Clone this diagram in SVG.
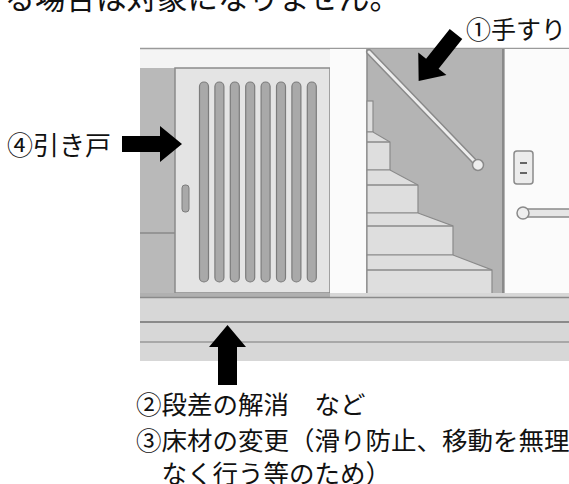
<svg xmlns="http://www.w3.org/2000/svg" width="569" height="484" viewBox="0 0 569 484">
<defs>
<style>
.t{font-family:"Noto Sans CJK JP","Noto Sans",sans-serif;fill:#111;}
.ln{stroke:#8a8a8a;stroke-width:1.5;fill:none;}
.slat{fill:#a9a9a9;stroke:#7c7c7c;stroke-width:1.2;}
.step{fill:#dedede;stroke:#8a8a8a;stroke-width:1.2;}
.arr{fill:#000;}
</style>
<path id="arrR" d="M0,-8 H38 V-18 L60,0 L38,18 V8 H0 Z"/>
</defs>
<rect width="569" height="484" fill="#fff"/>
<g id="top-text"><text class="t" x="-26" y="9" font-size="30.5">する場合は対象になりません。</text></g>
<g id="illustration">
<rect x="140" y="48" width="429" height="313" fill="#f4f4f4"/>
<line x1="140" y1="48.5" x2="569" y2="48.5" stroke="#9a9a9a" stroke-width="1.5"/>
<rect x="140" y="68" width="35" height="229" fill="#b9b9b9"/>
<line class="ln" x1="140" y1="233" x2="175" y2="233"/>
<rect x="175" y="68" width="155" height="225" fill="#e4e4e4" stroke="#8a8a8a" stroke-width="1.5"/>
<rect x="182" y="185" width="7" height="27" rx="3" fill="#a9a9a9" stroke="#7c7c7c"/>
<g>
<rect class="slat" x="199.5" y="82" width="9" height="200" rx="4.5"/>
<rect class="slat" x="214.9" y="82" width="9" height="200" rx="4.5"/>
<rect class="slat" x="230.3" y="82" width="9" height="200" rx="4.5"/>
<rect class="slat" x="245.7" y="82" width="9" height="200" rx="4.5"/>
<rect class="slat" x="261.1" y="82" width="9" height="200" rx="4.5"/>
<rect class="slat" x="276.5" y="82" width="9" height="200" rx="4.5"/>
<rect class="slat" x="291.9" y="82" width="9" height="200" rx="4.5"/>
<rect class="slat" x="307.3" y="82" width="9" height="200" rx="4.5"/>
</g>
<rect x="330" y="49" width="37" height="248" fill="#fbfbfb"/>
<rect x="367" y="49" width="138" height="248" fill="#b4b4b4"/>
<line class="ln" x1="367" y1="49" x2="367" y2="297"/>
<line x1="503" y1="49" x2="503" y2="297" stroke="#8a8a8a" stroke-width="2"/>
<rect x="505" y="49" width="64" height="248" fill="#fbfbfb"/>
<rect class="step" x="367" y="101" width="6" height="31"/>
<path class="step" d="M367,132 H373 L390,142 V170 H367 Z"/>
<line class="ln" x1="367" y1="142" x2="390" y2="142"/>
<path class="step" d="M367,170 H390 L418,185 V213 H367 Z"/>
<line class="ln" x1="367" y1="185" x2="418" y2="185"/>
<path class="step" d="M367,213 H418 L453,226 V255 H367 Z"/>
<line class="ln" x1="367" y1="226" x2="453" y2="226"/>
<path class="step" d="M367,255 H453 L492,270 V297 H367 Z"/>
<line class="ln" x1="367" y1="270" x2="492" y2="270"/>
<line x1="369" y1="52" x2="476" y2="163" stroke="#8a8a8a" stroke-width="6" stroke-linecap="round"/>
<line x1="369" y1="52" x2="476" y2="163" stroke="#eeeeee" stroke-width="3" stroke-linecap="round"/>
<circle cx="478" cy="165" r="5.5" fill="#eeeeee" stroke="#8a8a8a" stroke-width="1.5"/>
<rect x="514" y="151" width="19" height="33" rx="3" fill="#ececec" stroke="#8a8a8a" stroke-width="1.5"/>
<line x1="520" y1="163" x2="527" y2="163" stroke="#666" stroke-width="2"/>
<line x1="520" y1="173" x2="527" y2="173" stroke="#666" stroke-width="2"/>
<rect x="523" y="209" width="50" height="8" fill="#e6e6e6" stroke="#8a8a8a" stroke-width="1.5"/>
<circle cx="523" cy="213" r="6" fill="#eeeeee" stroke="#8a8a8a" stroke-width="1.5"/>
<rect x="140" y="293" width="429" height="68" fill="#d7d7d7"/>
<rect x="140" y="293" width="190" height="4" fill="#b0b0b0"/>
<line x1="140" y1="297.5" x2="569" y2="297.5" stroke="#8a8a8a" stroke-width="1.5"/>
<line x1="140" y1="322" x2="569" y2="322" stroke="#8a8a8a" stroke-width="2"/>
<line x1="140" y1="342" x2="569" y2="342" stroke="#999" stroke-width="1.5"/>
</g>
<g id="connectors">
<use class="arr" href="#arrR" transform="translate(456,34) rotate(128.5)"/>
<use class="arr" href="#arrR" transform="translate(122,144)"/>
<path class="arr" d="M218,385 V347 H209 L227.5,325 L246,347 H237 V385 Z"/>
</g>
<g id="label-1"><text class="t" x="466" y="38.5" font-size="25">①手すり</text></g>
<g id="label-4"><text class="t" x="7" y="155" font-size="26">④引き戸</text></g>
<g id="label-2"><text class="t" x="136" y="414" font-size="25.5">②段差の解消　など</text></g>
<g id="label-3"><text class="t" x="136" y="450" font-size="25.5">③床材の変更（滑り防止、移動を無理</text>
<text class="t" x="136" y="483" font-size="25.5">　なく行う等のため）</text></g>
</svg>
